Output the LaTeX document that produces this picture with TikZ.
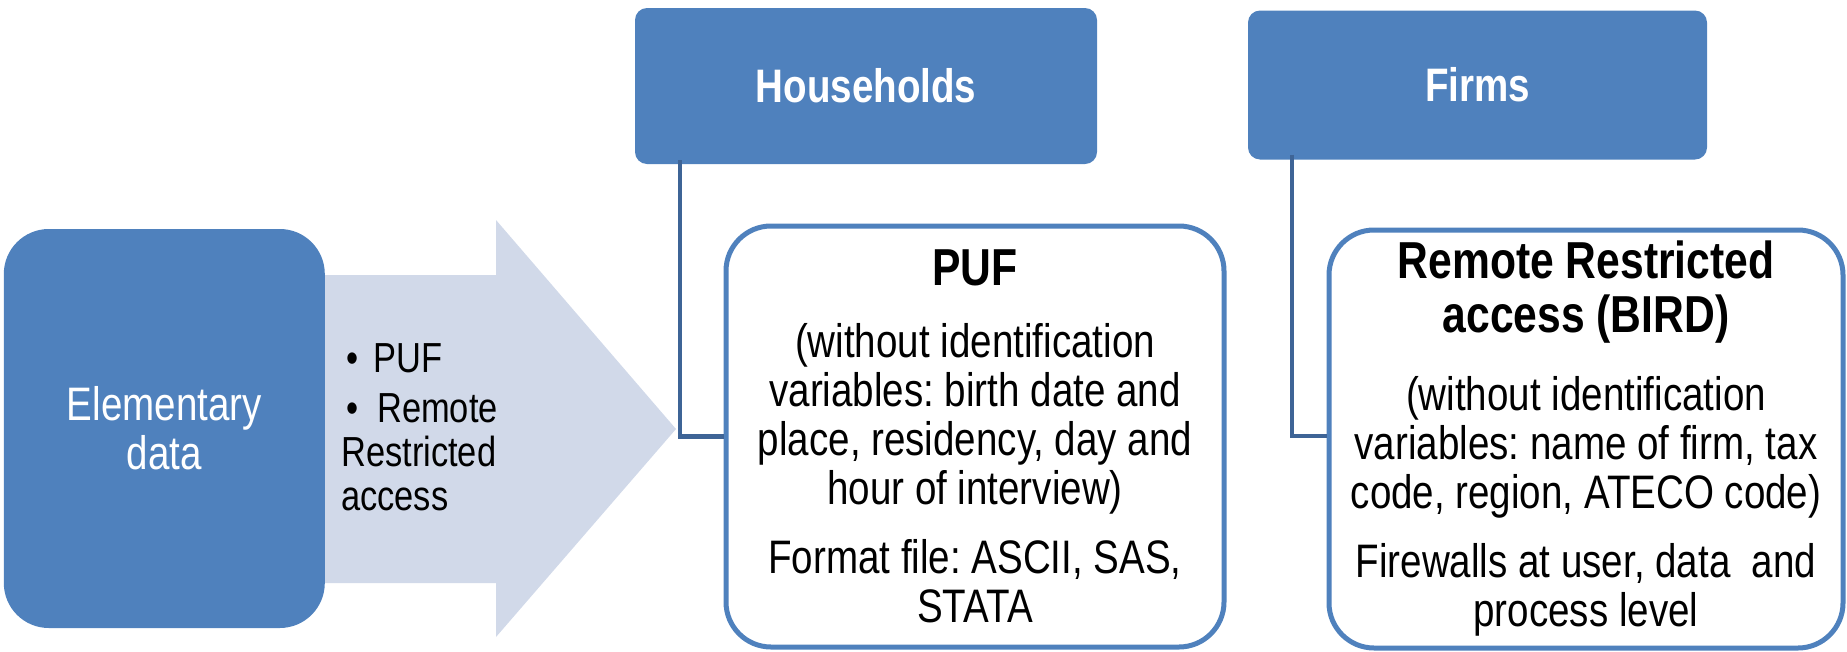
\documentclass[tikz,border=0pt]{standalone}
\usepackage{fontspec}
\setmainfont{Liberation Sans}[FakeStretch=0.82]
\usepackage{xcolor}
\definecolor{BoxBlue}{RGB}{79,129,189}
\definecolor{ArrowGrey}{RGB}{209,217,233}
\definecolor{LinkBlue}{RGB}{62,100,150}
\newcommand{\boxtitle}[1]{{\bfseries\fontsize{52}{54}\selectfont #1}}
\frenchspacing

\begin{document}
\begin{tikzpicture}[x=1pt,y=1pt,yscale=-1,xscale=1,
		catbox/.style={fill=BoxBlue, rounded corners=12pt, inner sep=0pt, text=white, font=\fontsize{47}{50}\selectfont\bfseries},
		infobox/.style={draw=BoxBlue, line width=5pt, fill=white, rounded corners=45pt, inner sep=0pt, align=center, font=\fontsize{47}{49}\selectfont},
		datalink/.style={draw=LinkBlue, line width=4.5pt}]
		% Set diagram to the full page size
		\useasboundingbox (0,0) rectangle (1847,651);

		% Draw the wide light arrow behind the elementary data box
		\fill[ArrowGrey] (320,275) -- (496,275) -- (496,220) -- (676,429) -- (496,637) -- (496,583) -- (320,583) -- cycle;

		% The list of access modes written on the arrow
		\node (modes) [anchor=west, inner sep=0pt, align=left, font=\fontsize{42}{44}\selectfont] at (341,427)
		{\hspace{5pt}\makebox[27pt][l]{\textbullet}PUF\\[6pt]
		\hspace{5pt}\makebox[31pt][l]{\textbullet}Remote\\
		Restricted\\
		access};

		% The elementary data box on the left
		\node (elem) [fill=BoxBlue, rounded corners=45pt, minimum width=321pt, minimum height=399pt, inner sep=0pt, align=center, text=white, font=\fontsize{47}{49}\selectfont] at (164.3,428.5) {Elementary\\data};

		% The two category boxes at the top
		\node (hh) [catbox, minimum width=462pt, minimum height=156pt] at (866,86) {Households};
		\node (firms) [catbox, minimum width=459pt, minimum height=149pt] at (1477.5,85) {Firms};

		% The PUF box below Households
		\node (puf) [infobox, minimum width=498pt, minimum height=421pt] at (975,436.5)
		{\boxtitle{PUF}\\[23pt]
		(without identification\\
		variables: birth date and\\
		place, residency, day and\\
		hour of interview)\\[20pt]
		Format file: ASCII, SAS,\\
		STATA};

		% The remote access box below Firms
		\node (rra) [infobox, minimum width=514pt, minimum height=418pt] at (1586,439)
		{\boxtitle{Remote Restricted}\\[5pt]
		\boxtitle{access (BIRD)}\\[29pt]
		(without identification\\
		variables: name of firm, tax\\
		code, region, ATECO code)\\[20pt]
		Firewalls at user, data~ and\\
		process level};

		% Elbow lines from each category box to its box below
		\draw[datalink] ([xshift=45pt,yshift=-4pt]hh.south west) |- (puf.west);
		\draw[datalink] ([xshift=44pt,yshift=-5pt]firms.south west) |- ([yshift=-3pt]rra.west);
	\end{tikzpicture}
\end{document}
